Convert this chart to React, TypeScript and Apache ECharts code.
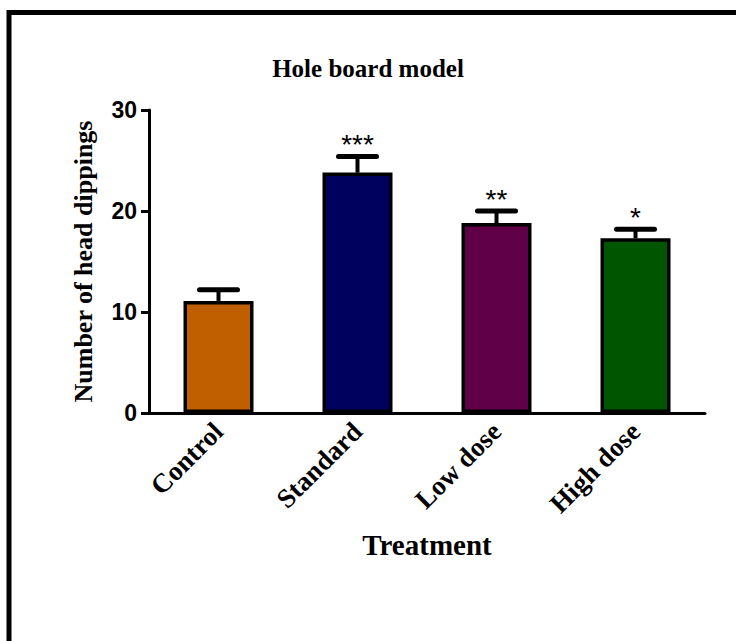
import React, { useEffect, useRef } from "react";
import * as echarts from "echarts";

const categories = ["Control", "Standard", "Low dose", "High dose"];
const means = [11.1, 23.8, 18.8, 17.3];
const sem = [1.1, 1.6, 1.2, 0.9];
const stars = ["", "***", "**", "*"];
const colors = ["#C05F00", "#00005E", "#5F0049", "#005500"];
const yTicks = [0, 10, 20, 30];

export default function App() {
  const ref = useRef<HTMLDivElement>(null);
  useEffect(() => {
    document.body.style.margin = "0";
    const chart = echarts.init(ref.current!, null, { renderer: "svg" });
    const errData = means.map((m, i) => [i, m, m + sem[i], stars[i]]);
    chart.setOption({
      animation: false,
      backgroundColor: "#ffffff",
      title: {
        text: "Hole board model",
        left: "center",
        top: 51,
        textStyle: {
          fontFamily: "Liberation Serif",
          fontWeight: "bold",
          fontSize: 25,
          color: "#000",
        },
      },
      graphic: [
        {
          type: "rect",
          shape: { x: 9, y: 12.5, width: 760, height: 700 },
          style: { fill: "none", stroke: "#000", lineWidth: 5 },
          silent: true,
        },
      ],
      grid: { left: 149, right: 31, top: 110, bottom: 228 },
      xAxis: {
        type: "category",
        data: categories,
        name: "Treatment",
        nameLocation: "middle",
        nameGap: 117,
        nameTextStyle: {
          fontFamily: "Liberation Serif",
          fontWeight: "bold",
          fontSize: 29,
          color: "#000",
        },
        axisLine: { lineStyle: { color: "#000", width: 3 } },
        axisTick: { alignWithLabel: true, length: 8, lineStyle: { color: "#000", width: 3 } },
        axisLabel: {
          rotate: 45,
          margin: 14,
          fontFamily: "Liberation Serif",
          fontWeight: "bold",
          fontSize: 27,
          color: "#000",
        },
      },
      yAxis: {
        type: "value",
        min: yTicks[0],
        max: yTicks[yTicks.length - 1],
        interval: 10,
        name: "Number of head dippings",
        nameLocation: "middle",
        nameRotate: 90,
        nameGap: 53,
        nameTextStyle: {
          fontFamily: "Liberation Serif",
          fontWeight: "bold",
          fontSize: 26,
          color: "#000",
        },
        splitLine: { show: false },
        axisLine: { show: true, lineStyle: { color: "#000", width: 3 } },
        axisTick: { show: true, length: 8, lineStyle: { color: "#000", width: 3 } },
        axisLabel: {
          margin: 12,
          fontFamily: "Liberation Sans",
          fontWeight: "bold",
          fontSize: 23,
          color: "#000",
        },
      },
      series: [
        {
          type: "bar",
          data: means.map((v, i) => ({ value: v, itemStyle: { color: colors[i] } })),
          barWidth: 70,
          itemStyle: { borderColor: "#000", borderWidth: 3.5 },
          z: 2,
        },
        {
          type: "custom",
          data: errData,
          z: 3,
          renderItem: (params: any, api: any) => {
            const x = api.value(0);
            const lo = api.coord([x, api.value(1)]);
            const hi = api.coord([x, api.value(2)]);
            const half = 19;
            const label = String(api.value(3) || "");
            const children: any[] = [
              {
                type: "line",
                shape: { x1: lo[0], y1: lo[1], x2: hi[0], y2: hi[1] },
                style: { stroke: "#000", lineWidth: 4 },
              },
              {
                type: "line",
                shape: { x1: hi[0] - half, y1: hi[1], x2: hi[0] + half, y2: hi[1] },
                style: { stroke: "#000", lineWidth: 5, lineCap: "round" },
              },
            ];
            if (label) {
              children.push({
                type: "text",
                x: hi[0],
                y: hi[1] - 12,
                style: {
                  text: label,
                  fontFamily: "Liberation Sans",
                  fontSize: 28,
                  fill: "#000",
                  align: "center",
                  verticalAlign: "middle",
                },
              });
            }
            return { type: "group", children };
          },
        },
      ],
    });
    return () => chart.dispose();
  }, []);
  return (
    <div
      ref={ref}
      style={{ position: "absolute", left: 0, top: 0, width: 736, height: 641 }}
    />
  );
}
